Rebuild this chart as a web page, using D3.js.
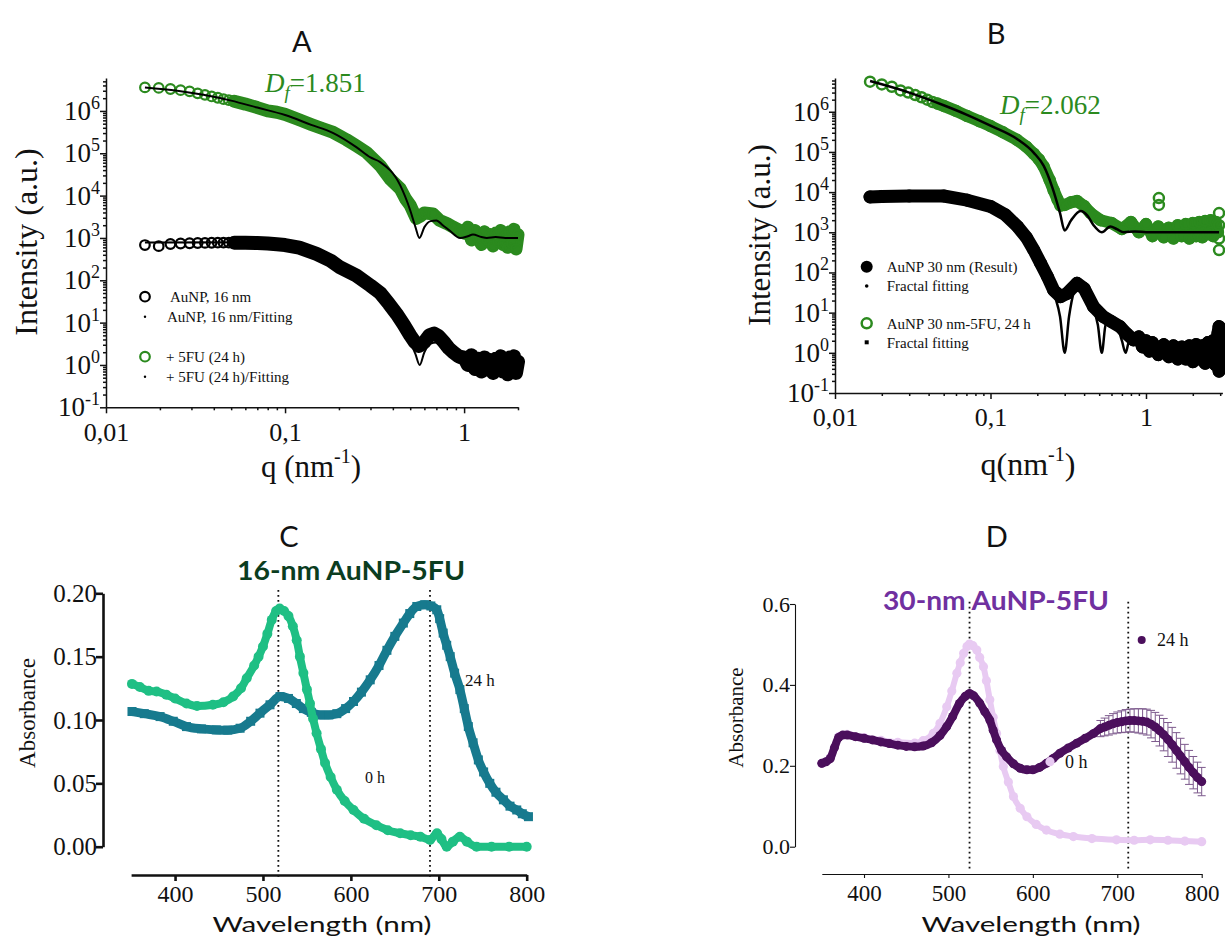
<!DOCTYPE html>
<html>
<head>
<meta charset="utf-8">
<script src="https://cdn.jsdelivr.net/npm/d3@7"></script>
<style>
  body { margin: 0; background: #fff; }
  svg { display: block; }
  #fig { font-family: "Liberation Serif", "Times New Roman", serif; fill: #111; }
</style>
</head>
<body>
<svg id="fig" width="1225" height="939"></svg>
<script>
// ---------------- data ----------------
// SAXS axes
const saxsTicksX = [0.01, 0.1, 1];
const saxsDecades = [-1, 0, 1, 2, 3, 4, 5, 6];

// Panel A: 16 nm AuNP, scattering intensity I(q) and fractal fits
const aAuNP16 = [
  [0.0165,680],[0.0197,640],[0.0229,720],[0.0261,740],[0.0293,750],[0.0325,760],[0.0357,765],
  [0.0389,770],[0.0421,775],[0.0453,775],[0.0485,775],[0.052,775],[0.06,770],[0.07,760],
  [0.08,740],[0.09,710],[0.1,680],[0.12,590],[0.15,420],[0.18,290],[0.2,210],[0.25,130],
  [0.3,75],[0.34,50],[0.38,28],[0.42,16],[0.46,9],[0.5,5],[0.53,3.5],[0.56,2.8],[0.6,3.5],
  [0.64,5],[0.68,5.5],[0.72,4.8],[0.77,3.5],[0.82,2.5],[0.87,2],[0.93,1.6],[1.0,1.5],
  [1.05,1.0],[1.1,1.7],[1.15,0.8],[1.2,1.4],[1.25,0.7],[1.3,1.5],[1.35,0.9],[1.4,1.3],
  [1.45,0.65],[1.5,1.4],[1.55,0.8],[1.6,1.6],[1.65,0.7],[1.7,1.3],[1.75,0.6],[1.8,1.5],
  [1.85,0.8],[1.9,1.6],[1.95,0.65],[2.0,1.2]
];
const aAuNP16Fit = [
  [0.0165,780],[0.05,790],[0.1,690],[0.15,430],[0.2,200],[0.25,120],[0.3,70],[0.34,45],
  [0.4,20],[0.45,9],[0.5,3.5],[0.535,1.8],[0.565,1.0],[0.6,2.0],[0.65,3.2],[0.7,3.4],
  [0.76,2.6],[0.83,1.8],[0.95,1.1],[1.1,1.2],[1.3,1.05],[1.6,1.1],[2.0,1.0]
];
const aAuNP5FU = [
  [0.0165,3.6e6],[0.0197,3.5e6],[0.0229,3.3e6],[0.0261,3.1e6],[0.0293,2.9e6],[0.0325,2.6e6],
  [0.0357,2.4e6],[0.0389,2.2e6],[0.0421,2.05e6],[0.0453,1.9e6],[0.0485,1.8e6],[0.052,1.7e6],
  [0.06,1.45e6],[0.07,1.2e6],[0.08,1.0e6],[0.09,9.3e5],[0.1,8.3e5],[0.12,6.2e5],[0.14,4.8e5],
  [0.16,3.9e5],[0.186,3.1e5],[0.22,2.1e5],[0.25,1.5e5],[0.285,1.05e5],[0.32,6.5e4],[0.34,5.1e4],
  [0.385,2.5e4],[0.44,1.45e4],[0.47,8.5e3],[0.5,5.9e3],[0.54,2.9e3],[0.57,3.3e3],[0.6,3.9e3],
  [0.67,3.7e3],[0.73,2.6e3],[0.8,2.2e3],[0.87,1.8e3],[0.95,1.5e3],[1.0,1.3e3],[1.05,1.8e3],
  [1.1,900],[1.15,1.5e3],[1.2,1.0e3],[1.25,700],[1.3,1.4e3],[1.35,900],[1.4,1.2e3],[1.45,650],
  [1.5,1.3e3],[1.55,800],[1.6,1.5e3],[1.65,700],[1.7,1.1e3],[1.75,600],[1.8,1.4e3],[1.85,750],
  [1.9,1.6e3],[1.95,550],[2.0,1.2e3]
];
const aAuNP5FUFit = [
  [0.0165,3.6e6],[0.025,3.0e6],[0.035,2.4e6],[0.05,1.75e6],[0.07,1.2e6],[0.1,8.0e5],
  [0.14,4.7e5],[0.186,3.0e5],[0.25,1.4e5],[0.3,8.0e4],[0.34,6.2e4],[0.44,1.74e4],[0.5,4.5e3],
  [0.535,1.8e3],[0.563,1.0e3],[0.6,1.8e3],[0.65,2.5e3],[0.7,2.6e3],[0.76,2.0e3],[0.83,1.5e3],
  [0.95,1.0e3],[1.05,1.1e3],[1.12,1.2e3],[1.25,1.05e3],[1.34,1.0e3],[1.5,1.05e3],[1.7,1.0e3],
  [2.0,1.0e3]
];

// Panel B: 30 nm AuNP
const bAuNP30 = [
  [0.0168,7.6e3],[0.02,7.8e3],[0.03,8.0e3],[0.05,8.0e3],[0.0708,6.3e3],[0.1,4.4e3],[0.125,2.7e3],
  [0.149,1.4e3],[0.17,750],[0.19,360],[0.21,170],[0.232,80],[0.255,36],[0.282,25],[0.31,30],
  [0.36,54],[0.4,40],[0.46,14],[0.53,8],[0.6,6],[0.68,4.5],[0.75,3.0],[0.83,2.1],[0.9,2.5],
  [0.95,1.4],[1.0,2.0],[1.05,1.1],[1.1,1.8],[1.2,0.9],[1.3,1.6],[1.4,0.8],[1.5,1.5],[1.6,0.7],
  [1.7,1.4],[1.8,0.7],[1.9,1.5],[2.0,0.6],[2.1,1.6],[2.2,0.7],[2.3,1.5],[2.4,0.55],[2.5,1.8],
  [2.6,0.6],[2.7,2.0],[2.8,0.5],[2.9,3.0],[2.95,4.5],[2.95,2.5],[2.95,0.8],[2.95,0.35]
];
const bAuNP30Fit = [
  [0.0168,8.5e3],[0.05,8.2e3],[0.1,4.5e3],[0.15,1.4e3],[0.19,360],[0.23,80],[0.26,25],[0.28,8],
  [0.3,1.0],[0.32,8],[0.345,35],[0.37,55],[0.4,40],[0.45,15],[0.49,5],[0.52,1.0],[0.55,5],
  [0.6,7],[0.65,5],[0.7,2],[0.74,1.0],[0.78,2],[0.85,2.2],[1.0,1.6],[1.5,1.1],[2.0,1.0],[2.95,1.0]
];
const bAuNP30FU = [
  [0.0168,5.6e6],[0.02,4.8e6],[0.0232,4.2e6],[0.0264,3.4e6],[0.0296,3.0e6],[0.0328,2.6e6],
  [0.036,2.3e6],[0.0392,2.0e6],[0.0424,1.75e6],[0.0456,1.6e6],[0.05,1.4e6],[0.06,1.05e6],
  [0.0708,7.8e5],[0.085,5.8e5],[0.1,4.4e5],[0.12,3.1e5],[0.148,2.0e5],[0.17,1.35e5],[0.19,9.0e4],
  [0.205,6.5e4],[0.22,4.3e4],[0.24,2.0e4],[0.255,1.1e4],[0.27,6.5e3],[0.282,4.6e3],[0.3,4.8e3],
  [0.33,5.6e3],[0.36,6.0e3],[0.4,4.5e3],[0.44,3.0e3],[0.51,2.0e3],[0.6,1.7e3],[0.7,1.2e3],
  [0.8,1.8e3],[0.9,1.0e3],[1.0,1.6e3],[1.1,800],[1.2,1.4e3],[1.3,750],[1.4,1.3e3],[1.5,700],
  [1.6,1.5e3],[1.7,800],[1.8,1.6e3],[1.9,700],[2.0,1.7e3],[2.1,800],[2.2,1.8e3],[2.3,750],
  [2.4,1.9e3],[2.5,900],[2.6,2.0e3],[2.7,800],[2.8,1.8e3],[2.9,1.0e3]
];
const bAuNP30FUOutliers = [[1.21,7.1e3],[1.21,4.8e3],[2.95,3.0e3],[2.95,1.5e3],[2.95,700],[2.95,360]];
const bAuNP30FUFit = [
  [0.0168,5.8e6],[0.03,3.0e6],[0.05,1.45e6],[0.07,8.5e5],[0.1,4.5e5],[0.148,2.1e5],[0.19,9.5e4],
  [0.22,4.5e4],[0.25,1.3e4],[0.28,3.0e3],[0.3,1.1e3],[0.33,2.0e3],[0.38,3.4e3],[0.42,2.6e3],
  [0.46,1.5e3],[0.52,1.0e3],[0.59,1.4e3],[0.65,1.2e3],[0.72,1.0e3],[0.85,1.05e3],[1.0,1.0e3],
  [1.5,1.0e3],[2.0,1.0e3],[2.95,1.0e3]
];

// UV-Vis axes
const uvTicksX = [400, 500, 600, 700, 800];
const uvTicksC = [0, 0.05, 0.10, 0.15, 0.20];
const uvTicksD = [0, 0.2, 0.4, 0.6];

// Panel C: 16-nm AuNP-5FU absorbance spectra
const cSpec0h = [
  [351,0.1285],[360,0.126],[370,0.123],[379,0.1225],[390,0.12],[400,0.117],[413,0.113],[425,0.111],
  [443,0.112],[455,0.114],[466,0.1185],[475,0.125],[481.5,0.133],[490,0.143],[495,0.150],[500,0.158],
  [505,0.168],[510,0.179],[515,0.186],[519,0.188],[524,0.186],[529,0.182],[534,0.174],[538.4,0.163],
  [542,0.150],[546,0.137],[550,0.124],[553.5,0.113],[557,0.101],[561,0.0896],[566,0.077],
  [570.6,0.066],[577,0.055],[584,0.045],[593,0.036],[603,0.029],[615,0.022],[629,0.017],[642,0.013],
  [656,0.0106],[668,0.009],[679,0.0079],[690,0.0053],[698,0.0106],[703,0.006],[709,0.0],[716,0.004],
  [724,0.0079],[732,0.004],[743,0.0],[760,0.0],[780,0.0],[800,0.0]
];
const cSpec24h = [
  [351,0.1067],[365,0.105],[383,0.1027],[398,0.099],[413,0.0948],[430,0.093],[447,0.0922],[460,0.092],
  [474,0.0935],[486,0.099],[496.6,0.1054],[508,0.112],[519.4,0.1185],[529,0.117],[538,0.113],
  [546,0.109],[555,0.106],[565,0.104],[575,0.104],[584,0.105],[594,0.109],[603,0.1146],[612,0.122],
  [622,0.1317],[632,0.143],[641,0.155],[650,0.166],[659.7,0.1765],[667,0.184],[675,0.1896],
  [684,0.191],[691,0.190],[697.7,0.187],[701,0.18],[705,0.1686],[709,0.159],[713,0.15],[718,0.137],
  [724,0.124],[729,0.109],[733.6,0.0948],[739,0.082],[745,0.0685],[751,0.059],[758,0.05],
  [765,0.043],[773.5,0.037],[781,0.032],[788.7,0.029],[795,0.026],[802,0.0237]
];
const cPeaks = [517.5, 690];

// Panel D: 30-nm AuNP-5FU absorbance spectra (24 h with standard deviation)
const dSpec0h = [
  [350,0.206],[360,0.22],[370,0.272],[380,0.278],[400,0.27],[420,0.263],[440,0.258],[460,0.256],
  [470,0.262],[482,0.28],[490,0.305],[498,0.346],[504,0.385],[510,0.429],[514,0.455],[518,0.478],
  [522,0.495],[525,0.501],[529,0.497],[533.6,0.486],[537,0.468],[541.5,0.445],[545,0.41],
  [549,0.363],[553,0.32],[557,0.28],[561,0.238],[565,0.198],[571,0.16],[577,0.124],[585,0.095],
  [593,0.074],[604,0.055],[616,0.041],[632,0.031],[648,0.025],[670,0.02],[699,0.017],[720,0.016],
  [739,0.017],[760,0.016],[780,0.014],[800,0.0124]
];
const dSpec24h = [
  [350,0.206,0],[355,0.21,0],[360,0.218,0],[365,0.245,0],[370,0.27,0],[375,0.276,0],[380,0.276,0],
  [390,0.272,0],[400,0.268,0],[410,0.264,0],[420,0.259,0],[430,0.255,0],[440,0.251,0],[450,0.248,0],
  [460,0.247,0],[470,0.249,0],[480,0.257,0],[490,0.275,0],[498,0.297,0],[505,0.322,0],[513,0.354,0],
  [520,0.372,0],[525,0.379,0],[530,0.373,0],[537,0.355,0],[543,0.334,0],[549,0.313,0],[553,0.288,0],
  [557,0.264,0],[563,0.238,0],[569,0.222,0],[577,0.205,0],[585,0.194,0],[593,0.19,0],[600,0.19,0],
  [608,0.196,0],[616,0.206,0],[624,0.218,0],[632,0.231,0],[642,0.244,0],[652,0.256,0],[662,0.268,0],
  [672,0.28,0],[680,0.292,0.02],[685,0.296,0.022],[690,0.300,0.024],[695,0.304,0.025],
  [700,0.307,0.026],[705,0.309,0.027],[710,0.311,0.028],[715,0.312,0.028],[720,0.312,0.029],
  [725,0.311,0.030],[730,0.310,0.031],[735,0.308,0.032],[740,0.303,0.034],[745,0.296,0.036],
  [750,0.287,0.038],[755,0.277,0.040],[760,0.265,0.042],[765,0.252,0.043],[770,0.238,0.044],
  [775,0.224,0.044],[780,0.210,0.043],[785,0.196,0.042],[790,0.183,0.040],[795,0.171,0.038],
  [800,0.161,0.035]
];
const dPeaks = [525, 713];

// ---------------- colours and fonts ----------------
const GREEN = "#2b8a1e";
const C_0H = "#1fbf84", C_24H = "#177a8e", C_TITLE = "#0b3d1f";
const D_0H = "#e8caf2", D_24H = "#4b0f5c", D_ERR = "#7d5a8d", D_TITLE = "#7030a0";
const SANS = "Lato, 'Open Sans', 'Liberation Sans', sans-serif";
const SERIF = "'Liberation Serif', 'Times New Roman', serif";

const svg = d3.select("#fig");

// ---------------- helpers ----------------
function minorLog(lo, hi) {
  const out = [];
  for (let e = Math.floor(Math.log10(lo)); e <= Math.ceil(Math.log10(hi)); e++) {
    for (let k = 2; k <= 9; k++) {
      const v = k * Math.pow(10, e);
      if (v > lo * 1.0001 && v <= hi * 1.0001) out.push(v);
    }
  }
  return out;
}

function saxsPanel(o) {
  const g = svg.append("g");
  const x = d3.scaleLog().domain(o.xDomain).range(o.xRange);
  const y = d3.scaleLog().domain(o.yDomain).range(o.yRange);
  const x0 = o.xRange[0], y0 = o.yRange[0];

  // y axis: majors, minors, labels
  const ya = g.append("g").attr("transform", `translate(${x0},0)`);
  ya.call(d3.axisLeft(y).tickValues(saxsDecades.map(d => Math.pow(10, d))).tickSize(6)
      .tickSizeOuter(0).tickFormat(""));
  ya.append("g").call(d3.axisLeft(y).tickValues(minorLog(o.yDomain[0], o.yDomain[1]))
      .tickSize(3).tickFormat("")).select(".domain").remove();
  ya.selectAll("path, line").attr("stroke", "#111").attr("stroke-width", 1.5);
  saxsDecades.forEach(d => {
    const t = g.append("text").attr("x", x0 - 6).attr("y", y(Math.pow(10, d)) + 9)
      .attr("text-anchor", "end").attr("font-size", 27).attr("fill", "#111");
    t.append("tspan").text("10");
    t.append("tspan").attr("dy", -11).attr("font-size", 18).text(d);
  });

  // x axis
  const xa = g.append("g").attr("transform", `translate(0,${y0})`);
  xa.call(d3.axisBottom(x).tickValues(saxsTicksX).tickSize(6).tickSizeOuter(0)
      .tickFormat(d => d === 1 ? "1" : String(d).replace(".", ",")));
  xa.append("g").call(d3.axisBottom(x).tickValues(minorLog(o.xDomain[0], o.xDomain[1]))
      .tickSize(3).tickFormat("")).select(".domain").remove();
  xa.selectAll("path, line").attr("stroke", "#111").attr("stroke-width", 1.5);
  xa.selectAll("text").attr("font-size", 26).attr("fill", "#111")
    .attr("font-family", SERIF).attr("y", o.xLabelDy).attr("dy", 0);

  const line = d3.line().x(d => x(d[0])).y(d => y(d[1]));
  return { g, x, y, line };
}

function band(p, data, fromQ, color, width) {
  p.g.append("path").datum(data.filter(d => d[0] >= fromQ))
    .attr("d", p.line).attr("fill", "none").attr("stroke", color)
    .attr("stroke-width", width).attr("stroke-linejoin", "round").attr("stroke-linecap", "round");
}
function circles(p, data, color, r, filled, sw) {
  p.g.append("g").selectAll("circle").data(data).join("circle")
    .attr("cx", d => p.x(d[0])).attr("cy", d => p.y(d[1])).attr("r", r)
    .attr("fill", filled ? color : "none").attr("stroke", color).attr("stroke-width", sw);
}
function fitLine(p, data, width) {
  p.g.append("path").datum(data).attr("d", p.line.curve(d3.curveMonotoneX))
    .attr("fill", "none").attr("stroke", "#000").attr("stroke-width", width);
  p.line.curve(d3.curveLinear);
}

// ---------------- Panel A ----------------
const pA = saxsPanel({ xDomain: [0.01, 2], xRange: [106, 518],
                       yDomain: [0.1, Math.pow(10, 6.778)], yRange: [407.3, 78], xLabelDy: 34 });
band(pA, aAuNP5FU, 0.05, GREEN, 13);
circles(pA, aAuNP5FU, GREEN, 4.8, false, 2.2);
fitLine(pA, aAuNP5FUFit, 2);
band(pA, aAuNP16, 0.05, "#000", 14);
circles(pA, aAuNP16, "#000", 4.8, false, 2.2);
fitLine(pA, aAuNP16Fit, 2);

// ---------------- Panel B ----------------
const pB = saxsPanel({ xDomain: [0.01, 3.1], xRange: [835, 1222.4],
                       yDomain: [0.1, Math.pow(10, 6.84)], yRange: [393, 78], xLabelDy: 33 });
band(pB, bAuNP30FU, 0.045, GREEN, 12);
circles(pB, bAuNP30FU, GREEN, 5, false, 2.5);
circles(pB, bAuNP30FUOutliers, GREEN, 5, false, 2.5);
band(pB, bAuNP30, 0, "#000", 13);
circles(pB, bAuNP30, "#000", 6, true, 1);
fitLine(pB, bAuNP30FUFit, 2.5);
fitLine(pB, bAuNP30Fit, 2.5);

// panel letters
function panelLetter(x, y, s) {
  svg.append("text").attr("x", x).attr("y", y).attr("text-anchor", "middle")
    .attr("font-size", 29).attr("fill", "#111").style("font-family", SANS).text(s);
}
panelLetter(301.7, 52, "A");
panelLetter(996, 43.5, "B");
panelLetter(289, 546.7, "C");
panelLetter(996.7, 546.7, "D");

function fractalDim(x, y, val) {
  const t = svg.append("text").attr("x", x).attr("y", y).attr("font-size", 27).attr("fill", GREEN);
  t.append("tspan").attr("font-style", "italic").text("D");
  t.append("tspan").attr("font-style", "italic").attr("font-size", 19).attr("dy", 7).text("f");
  t.append("tspan").attr("dy", -7).text("=" + val);
}
fractalDim(265, 92, "1.851");
fractalDim(1000, 113.5, "2.062");

function axisTitleQ(cx, y, s, size) {
  const t = svg.append("text").attr("x", cx).attr("y", y).attr("text-anchor", "middle")
    .attr("font-size", size).attr("fill", "#111");
  t.append("tspan").text(s);
  t.append("tspan").attr("dy", -14).attr("font-size", 20).text("-1");
  t.append("tspan").attr("dy", 14).text(")");
}
axisTitleQ(311, 477, "q (nm", 31);
axisTitleQ(1028, 475, "q(nm", 32);

function yTitle(x, cy, s, size) {
  svg.append("text").attr("transform", `translate(${x},${cy}) rotate(-90)`)
    .attr("text-anchor", "middle").attr("font-size", size).attr("fill", "#111").text(s);
}
yTitle(37, 242, "Intensity (a.u.)", 32);
yTitle(770, 235, "Intensity (a.u.)", 31);

// Legend A
const legA = svg.append("g").attr("font-size", 15).attr("fill", "#111");
legA.append("circle").attr("cx", 145).attr("cy", 296.7).attr("r", 4.8).attr("fill", "none").attr("stroke", "#000").attr("stroke-width", 2.2);
legA.append("text").attr("x", 170).attr("y", 302).text("AuNP, 16 nm");
legA.append("circle").attr("cx", 145).attr("cy", 316.7).attr("r", 1.2).attr("fill", "#000");
legA.append("text").attr("x", 167).attr("y", 322).text("AuNP, 16 nm/Fitting");
legA.append("circle").attr("cx", 145).attr("cy", 356.7).attr("r", 4.8).attr("fill", "none").attr("stroke", GREEN).attr("stroke-width", 2.2);
legA.append("text").attr("x", 166).attr("y", 362).text("+ 5FU (24 h)");
legA.append("circle").attr("cx", 145).attr("cy", 376.7).attr("r", 1.2).attr("fill", "#000");
legA.append("text").attr("x", 166).attr("y", 382).text("+ 5FU (24 h)/Fitting");

// Legend B
const legB = svg.append("g").attr("font-size", 15).attr("fill", "#111");
legB.append("circle").attr("cx", 866.7).attr("cy", 266.7).attr("r", 6).attr("fill", "#000");
legB.append("text").attr("x", 886.7).attr("y", 272).text("AuNP 30 nm (Result)");
legB.append("circle").attr("cx", 866.7).attr("cy", 286).attr("r", 1.8).attr("fill", "#000");
legB.append("text").attr("x", 886.7).attr("y", 291).text("Fractal fitting");
legB.append("circle").attr("cx", 866.7).attr("cy", 323.3).attr("r", 5).attr("fill", "none").attr("stroke", GREEN).attr("stroke-width", 2.5);
legB.append("text").attr("x", 886.7).attr("y", 328.5).text("AuNP 30 nm-5FU, 24 h");
legB.append("rect").attr("x", 864.7).attr("y", 340.3).attr("width", 4).attr("height", 4).attr("fill", "#000");
legB.append("text").attr("x", 886.7).attr("y", 347.5).text("Fractal fitting");

// ---------------- UV-Vis panels ----------------
function uvPanel(o) {
  const g = svg.append("g");
  const x = d3.scaleLinear().domain([350, 800]).range(o.xRange);
  const y = d3.scaleLinear().domain(o.yDomain).range(o.yRange);
  const ya = g.append("g").attr("transform", `translate(${o.yAxisX},0)`)
    .call(d3.axisLeft(y).tickValues(o.yTicks).tickSize(o.tick).tickSizeOuter(0).tickFormat(d3.format(o.fmt)));
  ya.selectAll("path, line").attr("stroke", "#111").attr("stroke-width", o.sw);
  ya.selectAll("text").attr("font-size", o.yFont).attr("font-family", SERIF)
    .attr("fill", "#111").attr("x", -o.yLabelGap);
  const xa = g.append("g").attr("transform", `translate(0,${o.xAxisY})`)
    .call(d3.axisBottom(x).tickValues(uvTicksX).tickSize(o.tick - 1).tickSizeOuter(0));
  xa.selectAll("path, line").attr("stroke", "#111").attr("stroke-width", o.sw);
  xa.selectAll("text").attr("font-size", o.xFont).attr("font-family", SERIF)
    .attr("fill", "#111").attr("y", o.xLabelDy).attr("dy", 0);
  // peak positions
  g.append("g").selectAll("line").data(o.peaks).join("line")
    .attr("x1", d => x(d)).attr("x2", d => x(d)).attr("y1", o.peakTop).attr("y2", o.peakBottom)
    .attr("stroke", "#111").attr("stroke-width", 1.8).attr("stroke-dasharray", "1.8,3.2");
  const line = d3.line().x(d => x(d[0])).y(d => y(d[1])).curve(d3.curveMonotoneX);
  return { g, x, y, line };
}

function boldTitle(cx, y, s, color, len) {
  svg.append("text").attr("x", cx).attr("y", y).attr("text-anchor", "middle")
    .attr("font-weight", "bold").attr("font-size", 26).attr("fill", color)
    .attr("textLength", len).attr("lengthAdjust", "spacingAndGlyphs")
    .style("font-family", SANS).text(s);
}
function wavelengthTitle(cx) {
  svg.append("text").attr("x", cx).attr("y", 932).attr("text-anchor", "middle")
    .attr("font-size", 22).attr("fill", "#111").attr("textLength", 219)
    .attr("lengthAdjust", "spacingAndGlyphs").style("font-family", SANS).text("Wavelength (nm)");
}

// Panel C
const pC = uvPanel({ xRange: [131.1, 526.7], yDomain: [0, 0.2], yRange: [846.7, 593.3],
  yAxisX: 103, xAxisY: 875, yTicks: uvTicksC, tick: 7, sw: 2.6, fmt: ".2f",
  yFont: 25, xFont: 24, yLabelGap: 6, xLabelDy: 27, peaks: cPeaks, peakTop: 590, peakBottom: 877 });
pC.g.append("path").datum(cSpec24h).attr("d", pC.line).attr("fill", "none")
  .attr("stroke", C_24H).attr("stroke-width", 9);
pC.g.append("g").selectAll("rect").data(cSpec24h).join("rect")
  .attr("x", d => pC.x(d[0]) - 4.5).attr("y", d => pC.y(d[1]) - 4.5).attr("width", 9).attr("height", 9)
  .attr("fill", C_24H);
pC.g.append("path").datum(cSpec0h).attr("d", pC.line).attr("fill", "none")
  .attr("stroke", C_0H).attr("stroke-width", 8);
pC.g.append("g").selectAll("circle").data(cSpec0h).join("circle")
  .attr("cx", d => pC.x(d[0])).attr("cy", d => pC.y(d[1])).attr("r", 5).attr("fill", C_0H);
svg.append("text").attr("x", 465).attr("y", 686).attr("font-size", 17).attr("fill", "#111").text("24 h");
svg.append("text").attr("x", 365).attr("y", 783).attr("font-size", 16).attr("fill", "#111").text("0 h");
boldTitle(351, 580, "16-nm AuNP-5FU", C_TITLE, 228);
yTitle(35, 713, "Absorbance", 23);
wavelengthTitle(322);

// Panel D
const pD = uvPanel({ xRange: [821.8, 1201.7], yDomain: [0, 0.6], yRange: [846.7, 604],
  yAxisX: 795, xAxisY: 874, yTicks: uvTicksD, tick: 5, sw: 1.1, fmt: ".1f",
  yFont: 22, xFont: 23, yLabelGap: 5, xLabelDy: 27, peaks: dPeaks, peakTop: 601.7, peakBottom: 871.7 });
pD.g.append("path").datum(dSpec0h).attr("d", pD.line).attr("fill", "none")
  .attr("stroke", D_0H).attr("stroke-width", 6);
pD.g.append("g").selectAll("circle").data(dSpec0h).join("circle")
  .attr("cx", d => pD.x(d[0])).attr("cy", d => pD.y(d[1])).attr("r", 4.6).attr("fill", D_0H);
// standard deviation bars for 24 h
const errs = pD.g.append("g").attr("stroke", D_ERR).attr("stroke-width", 1)
  .selectAll("g").data(dSpec24h.filter(d => d[2] > 0)).join("g");
errs.append("line").attr("x1", d => pD.x(d[0])).attr("x2", d => pD.x(d[0]))
  .attr("y1", d => pD.y(d[1] - d[2])).attr("y2", d => pD.y(d[1] + d[2]));
errs.append("line").attr("x1", d => pD.x(d[0]) - 4).attr("x2", d => pD.x(d[0]) + 4)
  .attr("y1", d => pD.y(d[1] + d[2])).attr("y2", d => pD.y(d[1] + d[2]));
errs.append("line").attr("x1", d => pD.x(d[0]) - 4).attr("x2", d => pD.x(d[0]) + 4)
  .attr("y1", d => pD.y(d[1] - d[2])).attr("y2", d => pD.y(d[1] - d[2]));
pD.g.append("path").datum(dSpec24h).attr("d", pD.line).attr("fill", "none")
  .attr("stroke", D_24H).attr("stroke-width", 8).attr("stroke-linecap", "round");
pD.g.append("g").selectAll("circle").data(dSpec24h).join("circle")
  .attr("cx", d => pD.x(d[0])).attr("cy", d => pD.y(d[1])).attr("r", 4.5).attr("fill", D_24H);
// series labels
svg.append("circle").attr("cx", 1141.7).attr("cy", 640).attr("r", 4).attr("fill", D_24H);
svg.append("text").attr("x", 1157).attr("y", 646).attr("font-size", 18).attr("fill", "#111").text("24 h");
svg.append("circle").attr("cx", 1050).attr("cy", 761.7).attr("r", 4.6).attr("fill", D_0H);
svg.append("text").attr("x", 1065).attr("y", 768).attr("font-size", 18).attr("fill", "#111").text("0 h");
boldTitle(996, 610, "30-nm AuNP-5FU", D_TITLE, 226);
yTitle(743, 717.5, "Absorbance", 21);
wavelengthTitle(1031);
</script>
</body>
</html>
